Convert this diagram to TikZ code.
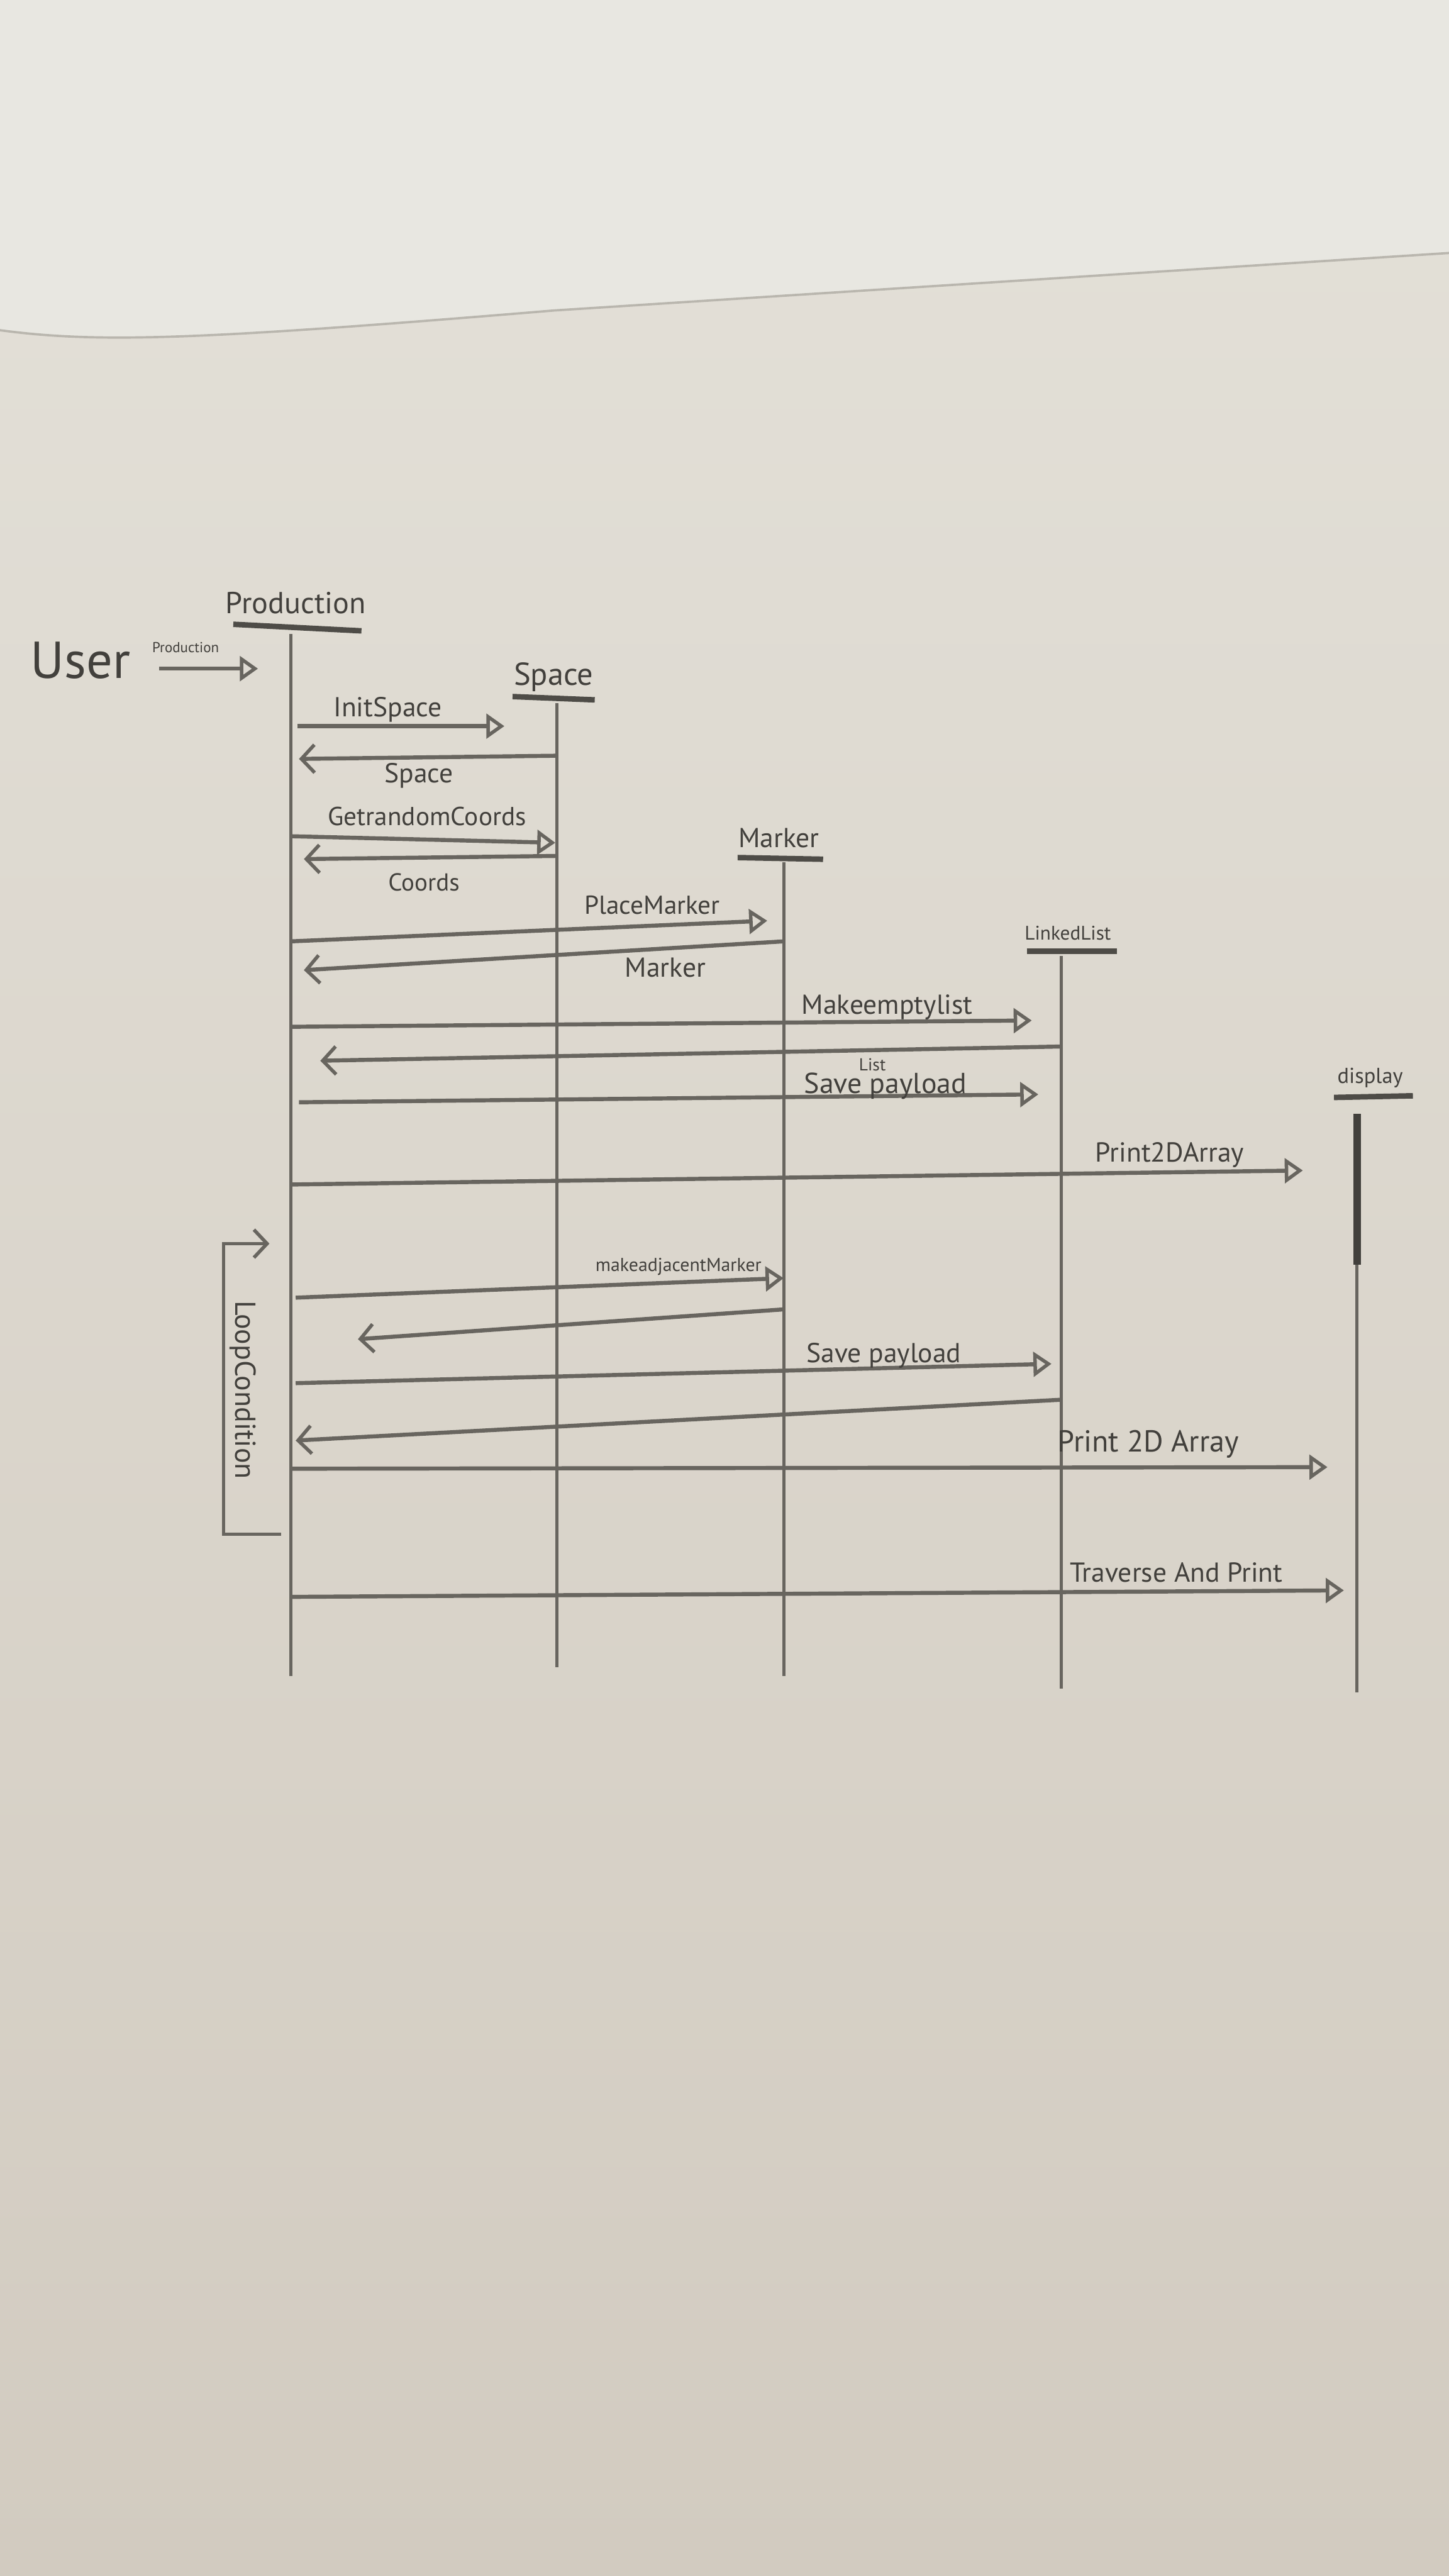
\documentclass[tikz,border=0pt]{standalone}
\usepackage{fontspec}
\setmainfont{PT Sans}
\usetikzlibrary{arrows.meta,calc}

\definecolor{paper}{RGB}{228,225,217}
\definecolor{paperlow}{RGB}{210,203,192}
\definecolor{papertop}{RGB}{232,231,225}
\definecolor{pencil}{RGB}{104,101,95}
\definecolor{lead}{RGB}{66,64,60}

\tikzset{
  lbl/.style={text=lead, inner sep=0pt, font=\fontsize{9.5}{11}\selectfont},
  minor/.style={lbl, font=\fontsize{5}{6}\selectfont},
  head/.style={lbl, font=\fontsize{10.5}{12}\selectfont},
  life/.style={draw=pencil, line width=1.1pt},
  bar/.style={draw=pencil!75!black, line width=1.9pt},
  call/.style={draw=pencil, line width=1.4pt,
    -{Triangle[open, length=0.22cm, width=0.3cm, line width=1.2pt]}},
  back/.style={draw=pencil, line width=1.4pt,
    -{Straight Barb[length=0.16cm, width=0.34cm, line width=1.2pt]}},
}

\begin{document}
\begin{tikzpicture}[x=0.02cm, y=-0.02cm]
  % hoja de papel
  \useasboundingbox (0,0) rectangle (882,1568);
  \shade[top color=paper, bottom color=paperlow] (0,0) rectangle (882,1568);
  \fill[papertop] (0,0) -- (0,201) .. controls (60,209) and (120,207) .. (337,189)
        -- (882,154) -- (882,0) -- cycle;
  \draw[pencil!35!paper, line width=0.8pt] (0,201) .. controls (60,209) and (120,207) .. (337,189)
        -- (882,154);

  % actor y cabeceras
  \node[lbl, font=\fontsize{18}{20}\selectfont] (user) at (49,402) {User};
  \node[head] (prod) at (180,367) {Production};
  \draw[bar] (142,380) -- (220,384);
  \node[head, font=\fontsize{11}{12}\selectfont] (space) at (337,412) {Space};
  \draw[bar] (312,424) -- (362,426);
  \node[head, font=\fontsize{9.5}{11}\selectfont] (marker) at (474,510) {Marker};
  \draw[bar] (449,522) -- (501,523);
  \node[head, font=\fontsize{6.8}{8}\selectfont] (list) at (650,568) {LinkedList};
  \draw[bar] (625,579) -- (680,579);
  \node[head, font=\fontsize{7.5}{9}\selectfont] (disp) at (834,656) {display};
  \draw[bar] (812,668) -- (860,667);

  % lineas de vida
  \coordinate (prodT) at (177,386);   \coordinate (prodB) at (177,1020);
  \coordinate (spaceT) at (339,428);  \coordinate (spaceB) at (339,1015);
  \coordinate (markerT) at (477,525); \coordinate (markerB) at (477,1020);
  \coordinate (listT) at (646,582);   \coordinate (listB) at (646,1028);
  \coordinate (dispT) at (826,678);   \coordinate (dispB) at (826,1030);
  \draw[life] (prodT) -- (prodB);
  \draw[life] (spaceT) -- (spaceB);
  \draw[life] (markerT) -- (markerB);
  \draw[life] (listT) -- (listB);
  \draw[life] (dispT) -- (dispB);
  \draw[life, line width=2.6pt, lead] (dispT) -- (dispT |- 0,770);

  % entrada del usuario
  \coordinate (userOut) at (97,407);
  \draw[call] (userOut) -- ([xshift=-0.4cm]prodT |- userOut);
  \node[minor] (userMsg) at (113,394) {Production};

  % mensajes
  \draw[call, shorten <=0.08cm, shorten >=0.64cm] (prodT |- 0,442) -- (spaceT |- 0,442);
  \node[lbl] (mInit) at (236,432) {InitSpace};
  \draw[back, shorten >=0.1cm] (spaceT |- 0,460) -- (prodT |- 0,462);
  \node[lbl] (rSpace) at (255,472) {Space};

  \draw[call, shorten >=0.02cm] (prodT |- 0,509) -- (spaceT |- 0,513);
  \node[lbl, font=\fontsize{9}{11}\selectfont] (mCoords) at (260,497) {GetrandomCoords};
  \draw[back, shorten >=0.16cm] (spaceT |- 0,521) -- (prodT |- 0,523);
  \node[lbl, font=\fontsize{8.5}{10}\selectfont] (rCoords) at (258,537) {Coords};

  \draw[call, shorten >=0.2cm] (prodT |- 0,573) -- (markerT |- 0,560);
  \node[lbl, font=\fontsize{9}{11}\selectfont] (mPlace) at (397,551) {PlaceMarker};
  \draw[back, shorten >=0.16cm] (markerT |- 0,573) -- (prodT |- 0,591);
  \node[lbl] (rMarker) at (405,589) {Marker};

  \draw[call, shorten >=0.36cm] (prodT |- 0,625) -- (listT |- 0,621);
  \node[lbl] (mEmpty) at (540,613) {Makeemptylist};
  \draw[back, shorten >=0.36cm] (listT |- 0,637) -- (prodT |- 0,646);
  \node[minor, font=\fontsize{6}{7}\selectfont] (rList) at (531,648) {List};

  \draw[call, shorten <=0.1cm, shorten >=0.28cm] (prodT |- 0,671) -- (listT |- 0,666);
  \node[lbl, font=\fontsize{10}{11}\selectfont] (mSave) at (539,661) {Save payload};

  \draw[call, shorten >=0.66cm] (prodT |- 0,721) -- (dispT |- 0,712);
  \node[lbl] (mPrint) at (712,703) {Print2DArray};

  % bucle
  \coordinate (loopIn) at (171,934);
  \coordinate (loopBot) at (136,934);
  \coordinate (loopTop) at (136,757);
  \coordinate (loopOut) at (164,757);
  \draw[back, line width=1.1pt] (loopIn) -- (loopBot) -- (loopTop) -- (loopOut);
  \node[lbl, font=\fontsize{10}{11}\selectfont, rotate=-90] (loopL) at (148,846) {LoopCondition};

  \draw[call, shorten <=0.06cm] (prodT |- 0,790) -- (markerT |- 0,778);
  \node[lbl, font=\fontsize{6.5}{8}\selectfont] (mAdj) at (413,771) {makeadjacentMarker};
  \draw[back, shorten >=0.82cm] (markerT |- 0,797) -- (prodT |- 0,818);

  \draw[call, shorten <=0.06cm, shorten >=0.12cm] (prodT |- 0,842) -- (listT |- 0,830);
  \node[lbl] (mSave2) at (538,825) {Save payload};
  \draw[back, shorten >=0.06cm] (listT |- 0,852) -- (prodT |- 0,877);

  \draw[call, shorten >=0.36cm] (prodT |- 0,894) -- (dispT |- 0,893);
  \node[lbl, font=\fontsize{10.5}{12}\selectfont] (mPrint2) at (699,879) {Print 2D Array};

  \draw[call, shorten >=0.16cm] (prodT |- 0,972) -- (dispT |- 0,968);
  \node[lbl] (mTrav) at (716,957) {Traverse And Print};
\end{tikzpicture}
\end{document}
